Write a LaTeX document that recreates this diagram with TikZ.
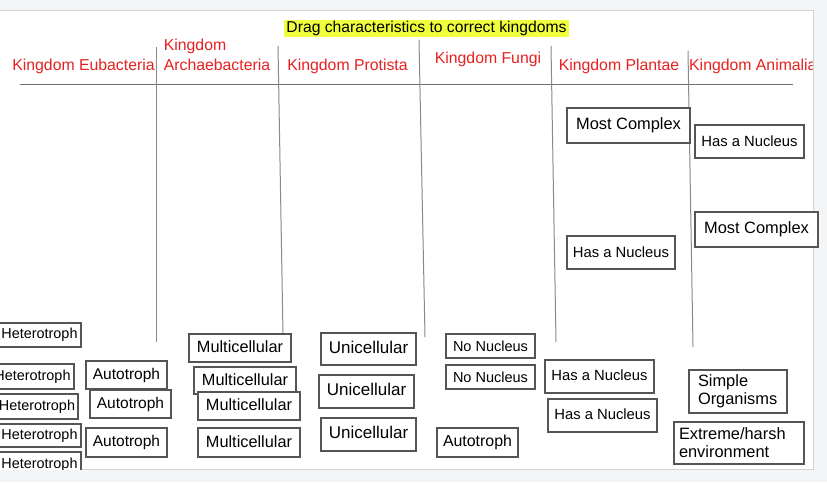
\documentclass[tikz,border=0pt]{standalone}
\usepackage{fontspec}
\setmainfont{Liberation Sans}
\definecolor{bggray}{HTML}{F4F5F7}
\definecolor{panelborder}{HTML}{D0D2D6}
\definecolor{boxgray}{HTML}{555555}
\definecolor{linegray}{HTML}{8A8A8A}
\definecolor{rulegray}{HTML}{707070}
\definecolor{headred}{HTML}{E82020}
\definecolor{hilite}{HTML}{F0FF3C}
\newcommand{\fsz}[1]{\fontsize{#1}{18}\selectfont}
\newcommand{\rb}[2]{\raisebox{#1pt}{#2}}
\begin{document}
\begin{tikzpicture}[x=1pt,y=-1pt,
  card/.style={draw=boxgray, line width=2.5pt, fill=white, inner sep=0pt, text=black},
  head/.style={text=headred, inner sep=0pt, font=\fsz{15.8}},
  vrule/.style={draw=linegray, line width=1pt}]
\useasboundingbox (0,0) rectangle (827,482);
\fill[bggray] (0,0) rectangle (827,482);
\draw[fill=white, draw=panelborder, line width=1pt] (-2,10) rectangle (813,469);

% title
\node[fill=hilite, inner sep=0pt, minimum width=285, minimum height=17, font=\fsz{15.7}] (title) at (426.5,28.5) {Drag characteristics to correct kingdoms};

% headers
\node[head] (heu) at (83.5,66) {Kingdom Eubacteria};
\node[head, align=left, font=\fontsize{15.8}{20}\selectfont] (har) at (217,55) {Kingdom\\Archaebacteria};
\node[head] (hpr) at (347.5,66) {Kingdom Protista};
\node[head] (hfu) at (488,59) {Kingdom Fungi};
\node[head] (hpl) at (619,66) {Kingdom Plantae};
\begin{scope}
\clip (-5,10) rectangle (812,469);
\node[head, anchor=west] (han) at (689,66) {Kingdom Animalia};
\end{scope}

% rules
\coordinate (hl1) at (20,84);
\coordinate (hl2) at (793,84);
\draw[draw=rulegray, line width=1pt] (hl1) -- (hl2);
\coordinate (v1a) at (156,47);  \coordinate (v1b) at (156,342);
\coordinate (v2a) at (278,46);  \coordinate (v2b) at (283,335);
\coordinate (v3a) at (419,40);  \coordinate (v3b) at (425,337);
\coordinate (v4a) at (551,46);  \coordinate (v4b) at (556,342);
\coordinate (v5a) at (688,51);  \coordinate (v5b) at (693,347);
\draw[vrule] (v1a) -- (v1b);
\draw[vrule] (v2a) -- (v2b);
\draw[vrule] (v3a) -- (v3b);
\draw[vrule] (v4a) -- (v4b);
\draw[vrule] (v5a) -- (v5b);

% heterotrophs (clipped by the panel)
\begin{scope}
\clip (-5,10) rectangle (813,469);
\node[card, minimum width=83, minimum height=24, font=\fsz{14.4}] (het1) at (39.5,335) {Heterotroph};
\node[card, minimum width=83, minimum height=25, font=\fsz{14.4}] (het2) at (32.5,376.5) {Heterotroph};
\node[card, minimum width=82, minimum height=25, font=\fsz{14.4}] (het3) at (37,406.5) {Heterotroph};
\node[card, minimum width=83, minimum height=23, font=\fsz{14.4}] (het4) at (39.5,435.5) {Heterotroph};
\node[card, minimum width=83, minimum height=26, font=\fsz{14.4}] (het5) at (39.5,465) {\rb{1}{Heterotroph}};
\end{scope}

% autotrophs
\node[card, minimum width=81, minimum height=28, font=\fsz{15.5}] (aut1) at (126.5,375) {\rb{2}{Autotroph}};
\node[card, minimum width=81, minimum height=28, font=\fsz{15.5}] (aut2) at (130.5,404) {\rb{1}{Autotroph}};
\node[card, minimum width=81, minimum height=29, font=\fsz{15.5}] (aut3) at (126.5,442.5) {\rb{1}{Autotroph}};

% multicellular
\node[card, minimum width=102, minimum height=28, font=\fsz{16.3}] (mul1) at (240,348) {\rb{2}{Multicellular}};
\node[card, minimum width=102, minimum height=27, font=\fsz{16.3}] (mul2) at (245,380.5) {\rb{2}{Multicellular}};
\node[card, minimum width=102, minimum height=28, font=\fsz{16.3}] (mul3) at (249,406) {\rb{2}{Multicellular}};
\node[card, minimum width=102, minimum height=29, font=\fsz{16.3}] (mul4) at (249,442.5) {\rb{2}{Multicellular}};

% unicellular
\node[card, minimum width=95, minimum height=32, font=\fsz{17}] (uni1) at (368.5,349) {\rb{4}{Unicellular}};
\node[card, minimum width=95, minimum height=33, font=\fsz{17}] (uni2) at (366.5,391.5) {\rb{4}{Unicellular}};
\node[card, minimum width=95, minimum height=33, font=\fsz{17}] (uni3) at (368.5,434.5) {\rb{4}{Unicellular}};

% fungi column
\node[card, minimum width=89, minimum height=24, font=\fsz{14.5}] (nn1) at (490.5,346) {No Nucleus};
\node[card, minimum width=89, minimum height=24, font=\fsz{14.5}] (nn2) at (490.5,377) {No Nucleus};
\node[card, minimum width=81, minimum height=29, font=\fsz{15.9}] (autf) at (477.5,442.5) {\rb{1}{Autotroph}};

% plantae column
\node[card, minimum width=123, minimum height=35, font=\fsz{16.4}] (mcp) at (628.5,125.5) {\rb{3}{Most Complex}};
\node[card, minimum width=108, minimum height=33, font=\fsz{14.8}] (hnp0) at (621,252.5) {\rb{1}{Has a Nucleus}};
\node[card, minimum width=109, minimum height=33, font=\fsz{14.8}] (hnp1) at (599.5,376.5) {\rb{2}{Has a Nucleus}};
\node[card, minimum width=109, minimum height=33, font=\fsz{14.8}] (hnp2) at (602.5,415.5) {\rb{2}{Has a Nucleus}};

% animalia column
\node[card, minimum width=109, minimum height=33, font=\fsz{14.8}] (hna1) at (749.5,141.5) {Has a Nucleus};
\node[card, minimum width=123, minimum height=35, font=\fsz{16.4}] (mca) at (756.5,229.5) {\rb{2}{Most Complex}};
\node[card, minimum width=98, minimum height=43, font=\fsz{16.4}, text width=80, align=left] (simp) at (738,391.5) {Simple\\Organisms};
\node[card, minimum width=130, minimum height=42, font=\fsz{16.4}, text width=120, align=left] (ext) at (739,443) {Extreme/harsh\\environment};
\end{tikzpicture}
\end{document}
